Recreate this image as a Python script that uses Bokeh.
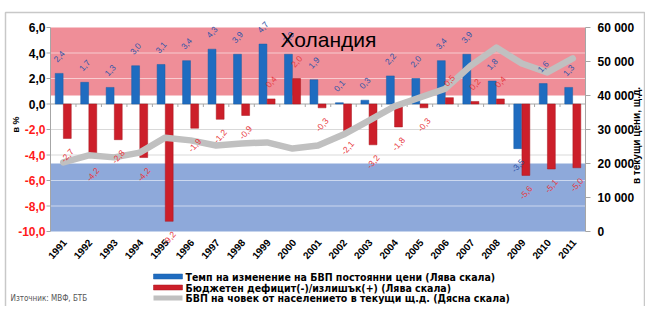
from math import pi
from bokeh.plotting import figure
from bokeh.models import Range1d, ColumnDataSource
from bokeh.core.properties import value
from bokeh.embed import file_html
from bokeh.resources import INLINE

# ---------------- data ----------------
years = ["1991", "1992", "1993", "1994", "1995", "1996", "1997", "1998", "1999", "2000",
         "2001", "2002", "2003", "2004", "2005", "2006", "2007", "2008", "2009", "2010", "2011"]
gdp_growth = [2.4, 1.7, 1.3, 3.0, 3.1, 3.4, 4.3, 3.9, 4.7, 3.9,
              1.9, 0.1, 0.3, 2.2, 2.0, 3.4, 3.9, 1.8, -3.5, 1.6, 1.3]
budget = [-2.7, -4.2, -2.8, -4.2, -9.2, -1.9, -1.2, -0.9, 0.4, 2.0,
          -0.3, -2.1, -3.2, -1.8, -0.3, 0.5, 0.2, 0.4, -5.6, -5.1, -5.0]
gdp_pc = [20300, 22400, 21800, 23200, 27600, 26800, 25300, 25900, 26200, 24400,
          25300, 28500, 32600, 36800, 39400, 42000, 48800, 54100, 49400, 46800, 50900]

left_ticks = [-10, -8, -6, -4, -2, 0, 2, 4, 6]
left_tick_labels = ["-10,0", "-8,0", "-6,0", "-4,0", "-2,0", "0,0", "2,0", "4,0", "6,0"]
right_ticks = [0, 10000, 20000, 30000, 40000, 50000, 60000]
right_tick_labels = ["0", "10 000", "20 000", "30 000", "40 000", "50 000", "60 000"]

title_text = "Холандия"
left_title = "в %"
right_title = "в текущи цени, щ.д."
legend_labels = ["Темп на изменение на БВП постоянни цени (Лява скала)",
                 "Бюджетен дефицит(-)/излишък(+) (Лява скала)",
                 "БВП на човек от населението в текущи щ.д. (Дясна скала)"]
source_text = "Източник: МВФ, БТБ"

# ---------------- styling / layout ----------------
BLUE = "#1F6CC0"
RED = "#CC1F2A"
BLUE_LBL = "#2F55A8"
RED_LBL = "#E8383D"
PINK_BAND = "#EF8E98"
BLUE_BAND = "#8EA9DA"
LINE_GRAY = "#C0C0C0"
AXIS_GRAY = "#A6A6A6"
FONT = "Liberation Sans"
NARROW = "'Liberation Sans Narrow', 'DejaVu Sans Condensed', sans-serif"

W, H = 645, 306
FL, FR, FT, FB = 50, 585, 27, 231          # plot area in pixels
L_MIN, L_MAX = -10, 6
R_MIN, R_MAX = 0, 60000
n = len(years)
xs = list(range(n))

ux = (FR - FL) / n                          # px per category
uy = (FB - FT) / (L_MAX - L_MIN)            # px per left unit
ur = (FB - FT) / (R_MAX - R_MIN)            # px per right unit

def X(px):
    return -0.5 + (px - FL) / ux

def Y(px):
    return L_MAX - (px - FT) / uy

def YR(px):
    return R_MAX - (px - FT) / ur

p = figure(width=W, height=H, output_backend="svg", toolbar_location=None,
           x_range=Range1d(X(0), X(W)), y_range=Range1d(Y(H), Y(0)),
           min_border=0, min_border_left=0, min_border_right=0,
           min_border_top=0, min_border_bottom=0)
p.extra_y_ranges = {"gdp": Range1d(YR(H), YR(0))}
p.axis.visible = False
p.grid.visible = False
p.outline_line_color = None
p.background_fill_color = "white"
p.border_fill_color = "white"

x0, x1 = X(FL), X(FR)

# bands (right-axis units)
p.quad(left=x0, right=x1, bottom=40000, top=60000, y_range_name="gdp",
       fill_color=PINK_BAND, line_color=None)
p.quad(left=x0, right=x1, bottom=0, top=20000, y_range_name="gdp",
       fill_color=BLUE_BAND, line_color=None)

# grid lines
def to_left(v):
    return L_MIN + (L_MAX - L_MIN) * (v - R_MIN) / (R_MAX - R_MIN)

grid_t = [t for t in left_ticks if L_MIN < t < L_MAX and t != 0]
grid_c = ["#FFFFFF" if (t > to_left(40000) or t < to_left(20000)) else "#D9D9D9" for t in grid_t]
grid_a = [0.55 if c == "#FFFFFF" else 1.0 for c in grid_c]
p.segment(x0=[x0] * len(grid_t), x1=[x1] * len(grid_t), y0=grid_t, y1=grid_t,
          line_color=grid_c, line_alpha=grid_a, line_width=1)

# zero line with category ticks
p.segment(x0=[x0], x1=[x1], y0=[0], y1=[0], line_color=AXIS_GRAY, line_width=1)
bounds = [i - 0.5 for i in range(n + 1)]
p.segment(x0=bounds, x1=bounds, y0=[0] * len(bounds), y1=[-3 / uy] * len(bounds),
          line_color=AXIS_GRAY, line_width=1)

# left axis
p.segment(x0=[x0], x1=[x0], y0=[L_MIN], y1=[L_MAX], line_color=AXIS_GRAY, line_width=1)
p.segment(x0=[x0] * len(left_ticks), x1=[X(FL - 4)] * len(left_ticks), y0=left_ticks,
          y1=left_ticks, line_color=AXIS_GRAY, line_width=1)
p.text(x=[X(FL - 5)] * len(left_ticks), y=left_ticks, text=left_tick_labels,
       text_color=["black" if t >= 0 else "#FF1A1A" for t in left_ticks],
       text_align="right", text_baseline="middle", text_font_size="12px",
       text_font_style="bold", text_font=value(FONT))

# right axis
p.segment(x0=[x1], x1=[x1], y0=[R_MIN], y1=[R_MAX], y_range_name="gdp",
          line_color=AXIS_GRAY, line_width=1)
p.segment(x0=[x1] * len(right_ticks), x1=[X(FR + 5)] * len(right_ticks), y0=right_ticks,
          y1=right_ticks, y_range_name="gdp", line_color=AXIS_GRAY, line_width=1)
p.text(x=[X(FR + 12)] * len(right_ticks), y=right_ticks, text=right_tick_labels,
       y_range_name="gdp", text_align="left", text_baseline="middle",
       text_font_size="12px", text_font_style="bold", text_font=value(FONT),
       text_color="black")

# bars and line
src = ColumnDataSource(dict(x=xs, g=gdp_growth, b=budget, pc=gdp_pc))
BW = 0.31
DX = 0.16
p.vbar(x=[i - DX for i in xs], top=gdp_growth, bottom=0, width=BW,
       fill_color=BLUE, line_color="#1A5CA6", line_width=0.5)
p.vbar(x=[i + DX for i in xs], top=budget, bottom=0, width=BW,
       fill_color=RED, line_color="#A8161F", line_width=0.5)
p.line(x="x", y="pc", source=src, y_range_name="gdp", line_color=LINE_GRAY,
       line_width=6.5, line_join="round", line_cap="round")

# value labels
def fmt(v):
    return f"{v:.1f}".replace(".", ",")

OFF = 17 / uy
p.text(x=[i - DX for i in xs], y=[v + (OFF if v >= 0 else -OFF) for v in gdp_growth],
       text=[fmt(v) for v in gdp_growth], angle=0.85, text_align="center",
       text_baseline="middle", text_font_size="8.5px", text_color=BLUE_LBL,
       text_font=value(FONT))
p.text(x=[i + DX for i in xs], y=[v + (OFF if v >= 0 else -OFF) for v in budget],
       text=[fmt(v) for v in budget], angle=0.85, text_align="center",
       text_baseline="middle", text_font_size="8.5px", text_color=RED_LBL,
       text_font=value(FONT))

# year labels
p.text(x=[i + 0.05 for i in xs], y=[Y(FB + 9)] * n, text=years, angle=0.85,
       text_align="right", text_baseline="middle", text_font_size="10px",
       text_font_style="bold", text_font=value(FONT), text_color="black")

# titles
p.text(x=[X(280)], y=[Y(39)], text=[title_text], text_font_size="21px",
       text_font=value(FONT), text_align="left", text_baseline="middle", text_color="black")
p.text(x=[X(15)], y=[Y(124)], text=[left_title], angle=pi / 2, text_font_size="9px",
       text_font_style="bold", text_font=value(FONT), text_align="center",
       text_baseline="middle", text_color="black")
p.text(x=[X(636)], y=[Y(135)], text=[right_title], angle=pi / 2, text_font_size="10px",
       text_font_style="bold", text_font=value(FONT), text_align="center",
       text_baseline="middle", text_color="black")

# legend (drawn in screen-derived positions)
rows = [276, 287, 297.5]
sw_l, sw_r = X(153), X(182)
p.quad(left=[sw_l] * 2, right=[sw_r] * 2, top=[Y(rows[0] - 2.5), Y(rows[1] - 2.5)],
       bottom=[Y(rows[0] + 2.5), Y(rows[1] + 2.5)], fill_color=[BLUE, RED],
       line_color=["#1A5CA6", "#A8161F"], line_width=0.5)
p.segment(x0=[sw_l], x1=[sw_r], y0=[Y(rows[2])], y1=[Y(rows[2])], line_color=LINE_GRAY,
          line_width=5)
p.text(x=[X(185)] * 3, y=[Y(r) for r in rows], text=legend_labels, text_align="left",
       text_baseline="middle", text_font_size="10.5px", text_font_style="bold",
       text_font=value(NARROW), text_color="black")

# source
p.text(x=[X(10)], y=[Y(298)], text=[source_text], text_align="left", text_baseline="middle",
       text_font_size="8px", text_font=value(NARROW), text_color="#555555")

# outer border
p.quad(left=[X(5)], right=[X(W - 1)], top=[Y(12)], bottom=[Y(H + 10)], fill_color=None,
       line_color="#C8C8C8", line_width=1.5)

open("out.html", "w").write(file_html(p, INLINE))
